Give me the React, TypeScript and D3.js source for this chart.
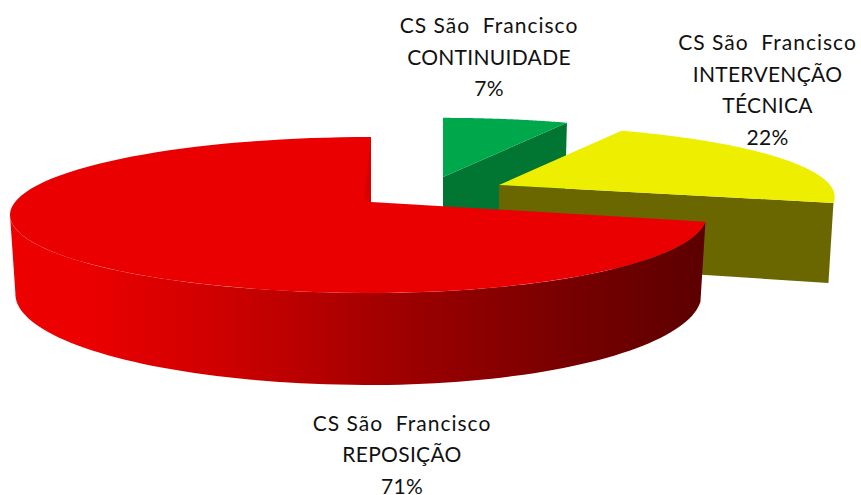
import React from "react";
import * as d3 from "d3";

const categories = ["CONTINUIDADE", "INTERVENÇÃO TÉCNICA", "REPOSIÇÃO"];
const seriesValues = [7, 22, 71];
const sitePrefix = "CS São  Francisco";
const labelLines = [
  [sitePrefix, "CONTINUIDADE", "7%"],
  [sitePrefix, "INTERVENÇÃO", "TÉCNICA", "22%"],
  [sitePrefix, "REPOSIÇÃO", "71%"],
];
const topColors = ["#00a84c", "#eeee00", "#ea0000"];
const wallColors = ["#007632", "#6a6600", "url(#redWall)"];
const apexes = [
  { x: 443, y: 177, kx: 335, ky: 69 },
  { x: 499, y: 185, kx: 331, ky: 69 },
  { x: 371, y: 202, kx: 331, ky: 75.8, kxLeft: 356 },
];
const labelPos = [
  { x: 489, y: 33 },
  { x: 767.5, y: 50 },
  { x: 402, y: 430.5 },
];
const persp = 1 / 6;
const wallH = 76.7;

const pieGen = d3.pie<number>().sort(null);
const arcs = pieGen(seriesValues);

function project(a: (typeof apexes)[number], t: number, radial = 1) {
  const s = Math.sin(t), c = Math.cos(t);
  const w = 1 + persp * c;
  const k = s < 0 && (a as any).kxLeft ? (a as any).kxLeft : a.kx;
  return [a.x + (radial * k * s) / w, a.y - (a.ky * c) / w] as [number, number];
}
function projectBottom(a: (typeof apexes)[number], t: number) {
  const p = project(a, t, 0.985);
  return [p[0], p[1] + wallH / (1 + persp * Math.cos(t))] as [number, number];
}
const line = d3.line();
const samples = (t0: number, t1: number, n = 90) => d3.range(n + 1).map((i) => t0 + ((t1 - t0) * i) / n);

export default function App() {
  return (
    <svg width={861} height={495} style={{ position: "absolute", left: 0, top: 0 }}>
      <defs>
        <linearGradient id="redWall" gradientUnits="userSpaceOnUse" x1={10} x2={705} y1={0} y2={0}>
          <stop offset="0.1" stopColor="#ec0000" />
          <stop offset="0.3" stopColor="#cf0000" />
          <stop offset="0.55" stopColor="#a00000" />
          <stop offset="0.8" stopColor="#780000" />
          <stop offset="1" stopColor="#5c0000" />
        </linearGradient>
      </defs>
      {arcs.map((arc, i) => {
        const a = apexes[i];
        const t0 = arc.startAngle, t1 = arc.endAngle;
        const topPts: [number, number][] = [[a.x, a.y], ...samples(t0, t1).map((t) => project(a, t))];
        let wall: [number, number][];
        if (i === 2) {
          const ts = samples(t0, Math.PI * 1.45);
          wall = [...ts.map((t) => project(a, t)), ...ts.slice().reverse().map((t) => projectBottom(a, t))];
        } else {
          const e = project(a, t1);
          const eb = projectBottom(a, t1);
          wall = [[a.x, a.y], e, eb, [a.x, a.y + wallH]];
        }
        const notch: [number, number][] = [[a.x, a.y], project(a, t1), [a.x - 7, a.y - 2]];
        return (
          <g key={categories[i]}>
            <path d={line(wall)!} fill={wallColors[i]} />
            <path d={line(topPts)! + "Z"} fill={topColors[i]} />
            {i === 2 && <path d={line(notch)! + "Z"} fill="#d80000" />}
          </g>
        );
      })}
      {labelLines.map((lines, i) => (
        <text key={i} x={labelPos[i].x} y={labelPos[i].y} textAnchor="middle" fontFamily="Lato, 'Open Sans', sans-serif" fontSize={21} fill="#111" style={{ whiteSpace: "pre" }}>
          {lines.map((l, j) => (
            <tspan key={j} x={labelPos[i].x} dy={j === 0 ? 0 : 31.7} letterSpacing={j === 0 ? 1 : 0.3}>{l}</tspan>
          ))}
        </text>
      ))}
    </svg>
  );
}
